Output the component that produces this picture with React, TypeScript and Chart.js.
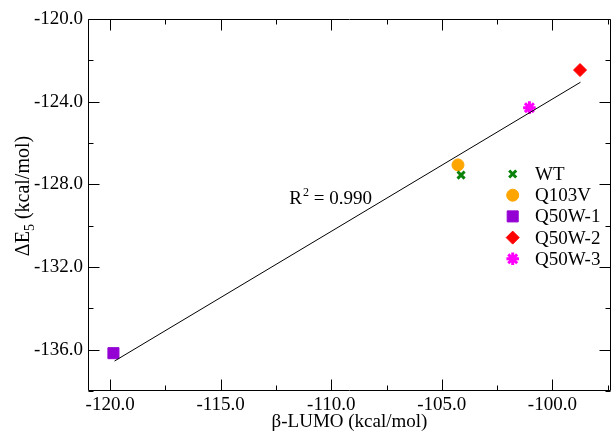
import React, { useEffect, useRef } from "react";
import { Chart, registerables } from "chart.js";
import { drawPoint } from "chart.js/helpers";

Chart.register(...registerables);

const seriesNames = ["WT", "Q103V", "Q50W-1", "Q50W-2", "Q50W-3"];
const lumoValues = [-104.13, -104.27, -119.85, -98.75, -101.04];
const deltaE5Values = [-127.55, -127.06, -136.17, -122.47, -124.29];
const seriesColors = ["#0a820a", "#FFA500", "#9400D3", "#FF0000", "#FF00FF"];
const seriesShapes = ["crossRot", "circle", "rect", "rectRot", "star"];
const seriesRadii = [5, 6, 7.8, 6.5, 6.3];
const seriesLineWidths = [3, 1, 1, 1, 3];

const fitLumo = [-119.8, -98.73];
const fitDeltaE5 = [-136.55, -123.06];
const r2Value = "0.990";

const xMajorTicks = [-120, -115, -110, -105, -100];
const xMinorTicks = [-117.5, -112.5, -107.5, -102.5, -97.5];
const yMajorTicks = [-136, -132, -128, -124, -120];
const yMinorTicks = [-138, -134, -130, -126, -122];

const FONT = "'Liberation Serif', 'Times New Roman', serif";

const decorPlugin = {
  id: "decor",
  afterDraw(chart: any) {
    const ctx = chart.ctx;
    const area = chart.chartArea;
    const xs = chart.scales.x;
    const ys = chart.scales.y;
    ctx.save();
    ctx.strokeStyle = "#000";
    ctx.lineWidth = 1;
    const L = Math.round(area.left) + 0.5;
    const R = Math.round(area.right) - 0.5;
    const T = Math.round(area.top) + 0.5;
    const B = Math.round(area.bottom) - 0.5;
    ctx.beginPath();
    ctx.rect(L, T, R - L, B - T);
    ctx.stroke();
    const major = 11;
    const minor = 5;
    ctx.beginPath();
    const xt = (vals: number[], len: number) => {
      vals.forEach((v) => {
        const p = Math.round(xs.getPixelForValue(v)) + 0.5;
        ctx.moveTo(p, B);
        ctx.lineTo(p, B - len);
        ctx.moveTo(p, T);
        ctx.lineTo(p, T + len);
      });
    };
    const yt = (vals: number[], len: number) => {
      vals.forEach((v) => {
        const p = Math.round(ys.getPixelForValue(v)) + 0.5;
        ctx.moveTo(L, p);
        ctx.lineTo(L + len, p);
        ctx.moveTo(R, p);
        ctx.lineTo(R - len, p);
      });
    };
    xt(xMajorTicks, major);
    xt(xMinorTicks, minor);
    yt(yMajorTicks, major);
    yt(yMinorTicks, minor);
    ctx.stroke();

    // R^2 annotation
    ctx.fillStyle = "#000";
    ctx.textBaseline = "alphabetic";
    ctx.textAlign = "left";
    let tx = xs.getPixelForValue(-111.9);
    const ty = ys.getPixelForValue(-128.6) + 7;
    ctx.font = `19px ${FONT}`;
    ctx.fillText("R", tx, ty);
    tx += ctx.measureText("R").width + 1;
    ctx.font = `12px ${FONT}`;
    ctx.fillText("2", tx, ty - 8);
    tx += ctx.measureText("2").width;
    ctx.font = `19px ${FONT}`;
    ctx.fillText(" = " + r2Value, tx, ty);

    // legend
    const lx = 512.7;
    const textX = 535;
    const ly0 = 174;
    const dy = 21.2;
    seriesNames.forEach((name, i) => {
      const y = ly0 + i * dy;
      ctx.fillStyle = seriesColors[i];
      ctx.strokeStyle = seriesColors[i];
      ctx.lineWidth = seriesLineWidths[i];
      drawPoint(ctx, { pointStyle: seriesShapes[i], radius: seriesRadii[i], borderWidth: seriesLineWidths[i], rotation: 0 } as any, lx, y);
      ctx.fillStyle = "#000";
      ctx.font = `19px ${FONT}`;
      ctx.textBaseline = "middle";
      ctx.fillText(name, textX, y + 1);
    });

    // x title
    ctx.fillStyle = "#000";
    ctx.font = `19px ${FONT}`;
    ctx.textAlign = "center";
    ctx.textBaseline = "middle";
    ctx.fillText("β-LUMO (kcal/mol)", (area.left + area.right) / 2, 422);

    // y title
    ctx.translate(24, 196);
    ctx.rotate(-Math.PI / 2);
    ctx.textAlign = "left";
    ctx.textBaseline = "middle";
    const big = `20px ${FONT}`;
    const small = `14px ${FONT}`;
    ctx.font = big;
    const w1 = ctx.measureText("ΔE").width;
    ctx.font = small;
    const w2 = ctx.measureText("5").width;
    ctx.font = big;
    const w3 = ctx.measureText(" (kcal/mol)").width;
    let sx = -(w1 + w2 + w3) / 2;
    ctx.font = big;
    ctx.fillText("ΔE", sx, 0);
    sx += w1;
    ctx.font = small;
    ctx.fillText("5", sx, 6);
    sx += w2;
    ctx.font = big;
    ctx.fillText(" (kcal/mol)", sx, 0);
    ctx.restore();
  },
};

export default function App() {
  const ref = useRef<HTMLCanvasElement | null>(null);
  useEffect(() => {
    if (!ref.current) return;
    const datasets: any[] = seriesNames.map((name, i) => ({
      label: name,
      data: [{ x: lumoValues[i], y: deltaE5Values[i] }],
      pointStyle: seriesShapes[i],
      pointRadius: seriesRadii[i],
      pointBackgroundColor: seriesColors[i],
      pointBorderColor: seriesColors[i],
      pointBorderWidth: seriesLineWidths[i],
      showLine: false,
    }));
    datasets.unshift({
      label: "fit",
      data: fitLumo.map((x, i) => ({ x, y: fitDeltaE5[i] })),
      showLine: true,
      borderColor: "#000",
      borderWidth: 1,
      pointRadius: 0,
      fill: false,
    });
    const chart = new Chart(ref.current, {
      type: "scatter",
      data: { datasets },
      options: {
        animation: false,
        responsive: false,
        layout: { autoPadding: false, padding: { top: 19, right: 0, left: 0, bottom: 0 } },
        plugins: { legend: { display: false }, tooltip: { enabled: false } },
        scales: {
          x: {
            type: "linear",
            min: -121,
            max: -97.35,
            grid: { display: false, drawTicks: false },
            border: { display: false },
            afterBuildTicks: (s: any) => {
              s.ticks = xMajorTicks.map((v) => ({ value: v }));
            },
            afterFit: (s: any) => {
              s.height = 50;
              s.paddingLeft = 0;
              s.paddingRight = 0;
            },
            ticks: {
              autoSkip: false,
              maxRotation: 0,
              padding: 3,
              color: "#000",
              font: { family: FONT, size: 19 },
              callback: (v: any) => Number(v).toFixed(1),
            },
          },
          y: {
            type: "linear",
            min: -138,
            max: -120,
            grid: { display: false, drawTicks: false },
            border: { display: false },
            afterBuildTicks: (s: any) => {
              s.ticks = yMajorTicks.map((v) => ({ value: v }));
            },
            afterFit: (s: any) => {
              s.width = 88;
              s.paddingTop = 0;
              s.paddingBottom = 0;
            },
            ticks: {
              autoSkip: false,
              padding: 5,
              color: "#000",
              font: { family: FONT, size: 19 },
              callback: (v: any) => Number(v).toFixed(1),
            },
          },
        },
      },
      plugins: [decorPlugin],
    });
    return () => chart.destroy();
  }, []);
  return (
    <div style={{ position: "absolute", left: 0, top: 0, width: 611, height: 441, background: "#fff" }}>
      <canvas ref={ref} width={611} height={441} />
    </div>
  );
}
